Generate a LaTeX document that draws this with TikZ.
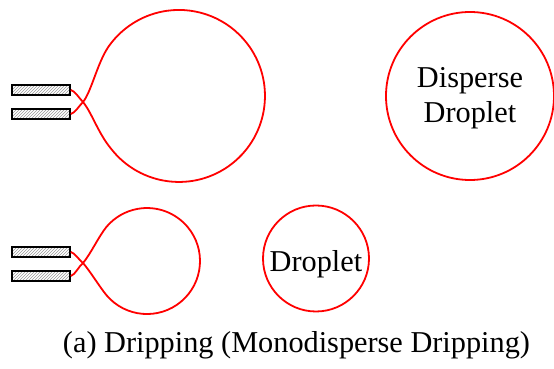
\documentclass[tikz,border=0pt]{standalone}
\usepackage{fontspec}
\setmainfont{Liberation Serif}
\usetikzlibrary{patterns,positioning}

\begin{document}
\begin{tikzpicture}[x=1pt,y=1pt,
    nozzle/.style={draw, line width=1.6pt, minimum width=58pt, minimum height=10pt, inner sep=0pt, pattern=north east lines, pattern color=gray!80},
    liquid/.style={red, line width=1.8pt},
    drop/.style={draw=red, line width=1.8pt, circle, inner sep=0pt},
    txt/.style={font=\fontsize{30.3}{35}\selectfont, align=center}]
    \useasboundingbox (0,0) rectangle (554,369);

    % Upper nozzles with the large growing drop
    \node[nozzle] (nozA) at (41,279) {};
    \node[nozzle] (nozB) at (41,255) {};
    \coordinate (neckA) at (83,267);
    \draw[liquid] (nozA.east) .. controls (75,278) and (79,271) .. (neckA)
        .. controls (92,256) and (98,236) .. (111.2,220.1)
        arc[start angle=-142, end angle=142, radius=86]
        .. controls (98,310) and (92,278) .. (neckA)
        .. controls (79,263) and (75,256) .. (nozB.east);

    % Lower nozzles with the small growing drop
    \node[nozzle] (nozC) at (41,117) {};
    \node[nozzle] (nozD) at (41,93) {};
    \coordinate (neckB) at (83,106);
    \draw[liquid] (nozC.east) .. controls (75,116) and (79,109) .. (neckB)
        .. controls (90,98) and (99,83) .. (106.4,73.9)
        arc[start angle=-140, end angle=140, radius=53]
        .. controls (99,133) and (90,114) .. (neckB)
        .. controls (79,103) and (75,94) .. (nozD.east);

    % Detached droplets
    \node[drop, minimum size=106pt] (dropSmall) at (316,110.5) {};
    \node[txt, anchor=base] (dropSmallTxt) at ([yshift=-13pt]dropSmall.center) {Droplet};
    \node[drop, minimum size=168pt] (dropBig) at (470,273) {};
    \node[txt, anchor=base] (dropBigTxt) at ([yshift=-27pt]dropBig.center) {Disperse\\Droplet};

    \node[txt, anchor=base] (caption) at (296.5,16) {(a) Dripping (Monodisperse Dripping)};
\end{tikzpicture}
\end{document}
